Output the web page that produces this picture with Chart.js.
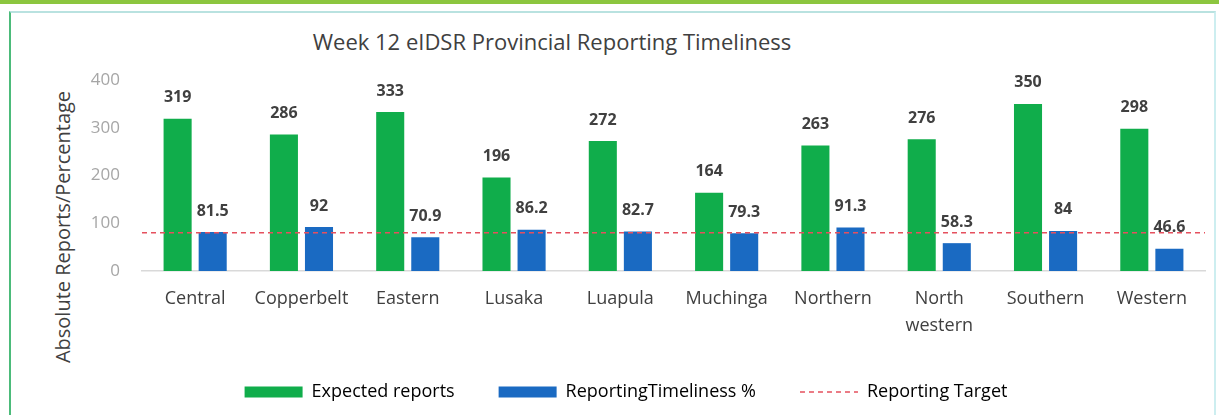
<!DOCTYPE html>
<html>
<head>
<meta charset="utf-8">
<script src="https://cdn.jsdelivr.net/npm/chart.js@4.4.1/dist/chart.umd.min.js"></script>
<style>
  body { margin: 0; background: #fff; width: 1219px; height: 415px; overflow: hidden; font-family: "Open Sans", sans-serif; }
  .topband { position: absolute; left: 0; top: 0; width: 1219px; height: 4px; background: #8cc63f; }
  .box { position: absolute; left: 9px; top: 11px; width: 1203px; height: 410px; border-top: 2px solid #b9e2e0; border-left: 2px solid #4cbb7a; border-right: 2px solid #cdeef0; }
  .titulo { position: absolute; left: 0; top: 26px; width: 1104px; text-align: center; font-size: 22px; color: #404040; }
  .ytitulo { position: absolute; left: 62px; top: 227px; transform: translate(-50%, -50%) rotate(-90deg); white-space: nowrap; font-size: 20px; color: #404040; }
  .lienzo { position: absolute; left: 12px; top: 14px; width: 1199px; height: 399px; }
</style>
</head>
<body>
<div class="topband"></div>
<div class="box"></div>
<div class="titulo">Week 12 eIDSR Provincial Reporting Timeliness</div>
<div class="ytitulo">Absolute Reports/Percentage</div>
<div class="lienzo"><canvas id="grafica"></canvas></div>

<script>
const provincias = ['Central', 'Copperbelt', 'Eastern', 'Lusaka', 'Luapula', 'Muchinga', 'Northern', ['North', 'western'], 'Southern', 'Western'];
const esperados = [319, 286, 333, 196, 272, 164, 263, 276, 350, 298];
const puntualidad = [81.5, 92, 70.9, 86.2, 82.7, 79.3, 91.3, 58.3, 84, 46.6];
const meta = 80;
const ticksY = [0, 100, 200, 300, 400];
const nombresSeries = ['Expected reports', 'ReportingTimeliness %', 'Reporting Target'];

const verde = '#10ad4b';
const azul = '#1a6ac2';
const rojo = '#e5505e';

// linea de meta a lo ancho del area, y etiquetas de valor encima de cada barra
const metaYEtiquetas = {
    id: 'metaYEtiquetas',
    afterDatasetsDraw(chart) {
        const ctx = chart.ctx;
        const area = chart.chartArea;
        const yMeta = chart.scales.y.getPixelForValue(meta);
        ctx.save();
        ctx.strokeStyle = rojo;
        ctx.lineWidth = 1.5;
        ctx.setLineDash([5, 4]);
        ctx.beginPath();
        ctx.moveTo(area.left, yMeta);
        ctx.lineTo(area.right, yMeta);
        ctx.stroke();
        ctx.setLineDash([]);

        ctx.font = 'bold 16px "Open Sans"';
        ctx.fillStyle = '#404040';
        ctx.textAlign = 'center';
        ctx.textBaseline = 'middle';
        chart.data.datasets.forEach((ds, i) => {
            chart.getDatasetMeta(i).data.forEach((barra, j) => {
                ctx.fillText(String(ds.data[j]), barra.x, barra.y - 21);
            });
        });
        ctx.restore();
    }
};

new Chart(document.getElementById('grafica'), {
    type: 'bar',
    data: {
        labels: provincias,
        datasets: [
            { label: nombresSeries[0], data: esperados, backgroundColor: verde, categoryPercentage: 0.66, barPercentage: 0.8 },
            { label: nombresSeries[1], data: puntualidad, backgroundColor: azul, categoryPercentage: 0.66, barPercentage: 0.8 }
        ]
    },
    options: {
        responsive: true,
        maintainAspectRatio: false,
        animation: false,
        layout: { padding: { left: 35, right: 6, top: 66, bottom: 2 } },
        plugins: {
            title: { display: false },
            tooltip: { enabled: false },
            legend: {
                position: 'bottom',
                labels: {
                    usePointStyle: true,
                    pointStyleWidth: 58,
                    boxHeight: 11,
                    padding: 44,
                    color: '#404040',
                    font: { family: 'Open Sans', size: 18 },
                    generateLabels() {
                        return [
                            { text: nombresSeries[0], fillStyle: verde, strokeStyle: verde, lineWidth: 0, pointStyle: 'rect', datasetIndex: 0 },
                            { text: nombresSeries[1], fillStyle: azul, strokeStyle: azul, lineWidth: 0, pointStyle: 'rect', datasetIndex: 1 },
                            { text: nombresSeries[2], fillStyle: 'rgba(0,0,0,0)', strokeStyle: rojo, lineWidth: 1.5, lineDash: [5, 4], pointStyle: 'line' }
                        ];
                    }
                }
            }
        },
        scales: {
            x: {
                grid: { display: false, drawTicks: false },
                border: { color: '#d9d9d9', width: 1.5 },
                ticks: { color: '#404040', font: { family: 'Open Sans', size: 18, lineHeight: 1.5 }, padding: 14, maxRotation: 0, autoSkip: false },
                afterFit(escala) { escala.height -= 14; }
            },
            y: {
                min: ticksY[0],
                max: ticksY[ticksY.length - 1],
                grid: { display: false, drawTicks: false },
                border: { display: false },
                afterBuildTicks(escala) { escala.ticks = ticksY.map(v => ({ value: v })); },
                afterFit(escala) { escala.width = 95; },
                ticks: { color: '#a6a6a6', font: { family: 'Open Sans', size: 17 }, padding: 22 }
            }
        }
    },
    plugins: [metaYEtiquetas]
});
</script>
</body>
</html>
